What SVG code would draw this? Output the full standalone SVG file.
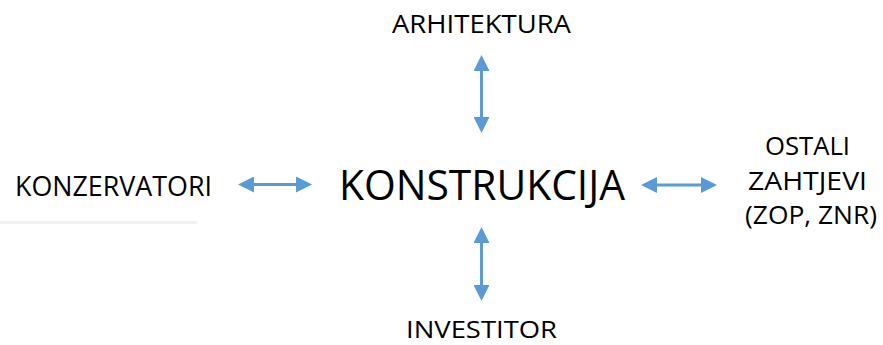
<svg xmlns="http://www.w3.org/2000/svg" width="883" height="345" viewBox="0 0 883 345">
<style>
.t{font-family:"Open Sans","Liberation Sans",sans-serif;fill:#000}
.c{stroke:#5B9BD5;stroke-width:3;fill:none}
</style>
<defs>
<marker id="ah" viewBox="0 0 16 16" refX="2" refY="8" markerWidth="16" markerHeight="16" markerUnits="userSpaceOnUse" orient="auto-start-reverse">
<path d="M0,0 L16,8 L0,16 Z" fill="#5B9BD5"/>
</marker>
</defs>
<rect width="883" height="345" fill="#fff"/>
<rect x="0" y="221" width="197" height="3" fill="#f1f1f1"/>
<g id="connectors">
<line class="c" x1="252" y1="184.5" x2="298" y2="184.5" marker-start="url(#ah)" marker-end="url(#ah)"/>
<line class="c" x1="655" y1="185" x2="703" y2="185" marker-start="url(#ah)" marker-end="url(#ah)"/>
<line class="c" x1="481.5" y1="69" x2="481.5" y2="119" marker-start="url(#ah)" marker-end="url(#ah)"/>
<line class="c" x1="481.5" y1="241" x2="481.5" y2="287" marker-start="url(#ah)" marker-end="url(#ah)"/>
</g>
<g id="arhitektura"><text class="t" x="392" y="33" font-size="25" textLength="179" lengthAdjust="spacingAndGlyphs">ARHITEKTURA</text></g>
<g id="konstrukcija"><text class="t" x="339" y="200" font-size="42" textLength="286" lengthAdjust="spacingAndGlyphs">KONSTRUKCIJA</text></g>
<g id="konzervatori"><text class="t" x="15" y="196" font-size="28" textLength="197" lengthAdjust="spacingAndGlyphs">KONZERVATORI</text></g>
<g id="investitor"><text class="t" x="406" y="338" font-size="24" textLength="151" lengthAdjust="spacingAndGlyphs">INVESTITOR</text></g>
<g id="ostali">
<text class="t" x="765" y="155" font-size="25" textLength="85" lengthAdjust="spacingAndGlyphs">OSTALI</text>
<text class="t" x="748" y="190" font-size="25" textLength="119" lengthAdjust="spacingAndGlyphs">ZAHTJEVI</text>
<text class="t" x="745" y="224" font-size="25" textLength="132" lengthAdjust="spacingAndGlyphs">(ZOP, ZNR)</text>
</g>
</svg>
